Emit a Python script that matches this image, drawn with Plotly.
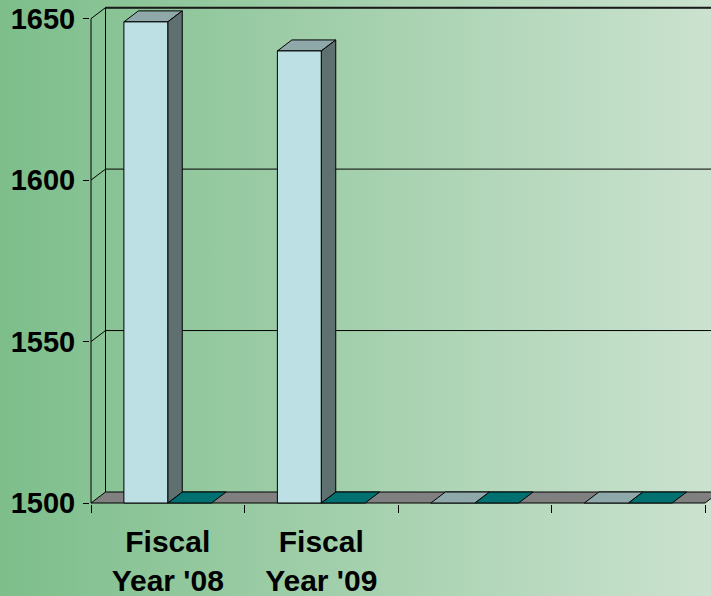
import base64
import plotly.graph_objects as go

# ---------------- data ----------------
categories = ["Fiscal<br>Year '08", "Fiscal<br>Year '09", "", ""]
series_a = [1649, 1640, 0, 0]      # light blue columns
series_b = [0, 0, 0, 0]            # teal columns (below axis minimum -> flat)
y_ticks = [1500, 1550, 1600, 1650]

# ---------------- geometry / style ----------------
Y_MIN, Y_MAX = 1500, 1650
W, H = 711, 596
PX_CAT = 153.5          # pixels per category
PX_UNIT = 3.229         # pixels per value unit
DX = 14.5 / PX_CAT      # depth offset in category units
DY = 11.0 / PX_UNIT     # depth offset in value units
BAR_W = 1 / 3.5         # 2 series, gap 150%
OFF = 0.75 * BAR_W

ML, MB = 90, 92
plot_w = W - ML
plot_h = H - MB
x0r = -1 / PX_CAT
x_range = [x0r, x0r + plot_w / PX_CAT]
y0r = Y_MIN - 1 / PX_UNIT
y_range = [y0r, y0r + plot_h / PX_UNIT]

n = len(categories)

FRONT = "#BCE0E4"
TOP = "#8FA9AB"
SIDE = "#5E7070"
TEAL = "#007070"
FLOOR = "#808080"


def poly(store, pts):
    xs, ys = store
    for px, py in pts:
        xs.append(px)
        ys.append(py)
    xs.append(pts[0][0])
    ys.append(pts[0][1])
    xs.append(None)
    ys.append(None)


def filled(store, color, lw=1):
    return go.Scatter(x=store[0], y=store[1], mode="lines", fill="toself",
                      fillcolor=color, line=dict(color="black", width=lw),
                      hoverinfo="skip", showlegend=False)


fig = go.Figure()

# floor
floor = ([], [])
poly(floor, [(0, Y_MIN), (n, Y_MIN), (n + DX, Y_MIN + DY), (DX, Y_MIN + DY)])
fig.add_trace(filled(floor, FLOOR))

# walls: side wall slants, back wall lines, front axis line
wx, wy = [], []
for v in y_ticks[1:]:
    wx += [0, DX, n + DX + 1, None]
    wy += [v, v + DY, v + DY, None]
wx += [DX, DX, None, 0, 0, None]
wy += [Y_MIN + DY, Y_MAX + DY, None, Y_MIN, Y_MAX, None]
fig.add_trace(go.Scatter(x=wx, y=wy, mode="lines",
                         line=dict(color="black", width=1),
                         hoverinfo="skip", showlegend=False))
fig.add_trace(go.Scatter(x=[DX, n + DX + 1], y=[Y_MAX + DY, Y_MAX + DY],
                         mode="lines", line=dict(color="#1a1a1a", width=2),
                         hoverinfo="skip", showlegend=False))

# columns
fronts, tops_a, sides, tops_b = ([], []), ([], []), ([], []), ([], [])
for i in range(n):
    for s, vals in enumerate([series_a, series_b]):
        x0 = i + OFF + s * BAR_W
        x1 = x0 + BAR_W
        v = max(vals[i], Y_MIN)
        top = [(x0, v), (x1, v), (x1 + DX, v + DY), (x0 + DX, v + DY)]
        if s == 0:
            poly(tops_a, top)
            if v > Y_MIN:
                poly(fronts, [(x0, Y_MIN), (x1, Y_MIN), (x1, v), (x0, v)])
                poly(sides, [(x1, Y_MIN), (x1 + DX, Y_MIN + DY),
                             (x1 + DX, v + DY), (x1, v)])
        else:
            poly(tops_b, top)

fig.add_trace(filled(tops_b, TEAL))
fig.add_trace(filled(tops_a, TOP))
fig.add_trace(filled(sides, SIDE))
fig.add_trace(filled(fronts, FRONT))

# gradient background
svg = ('<svg xmlns="http://www.w3.org/2000/svg" width="%d" height="%d">'
       '<defs><linearGradient id="g" x1="0" y1="0" x2="1" y2="0">'
       '<stop offset="0" stop-color="#7DBE8B"/>'
       '<stop offset="1" stop-color="#CBE2CF"/>'
       '</linearGradient></defs>'
       '<rect width="%d" height="%d" fill="url(#g)"/></svg>') % (W, H, W, H)
src = "data:image/svg+xml;base64," + base64.b64encode(svg.encode()).decode()

fig.update_layout(
    width=W, height=H,
    margin=dict(l=ML, r=0, t=0, b=MB, pad=0),
    paper_bgcolor="#7DBE8B",
    plot_bgcolor="rgba(0,0,0,0)",
    font=dict(family="Liberation Sans, Arial, sans-serif", color="black"),
    images=[dict(source=src, xref="paper", yref="paper",
                 x=-ML / plot_w, y=1, sizex=W / plot_w, sizey=H / plot_h,
                 xanchor="left", yanchor="top", sizing="stretch",
                 layer="below")],
    xaxis=dict(range=x_range, showgrid=False, zeroline=False, showline=False,
               tickmode="array", tickvals=[i + 0.5 for i in range(n)],
               ticktext=["<b>%s</b>" % c.replace("<br>", "</b><br><b>") if c else "" for c in categories],
               ticks="", tickfont=dict(size=30, color="black"),
               ticklabelstandoff=17,
               minor=dict(tickmode="array", tickvals=list(range(n + 1)),
                          ticks="outside", ticklen=8, tickcolor="black",
                          tickwidth=1, showgrid=False)),
    yaxis=dict(range=y_range, showgrid=False, zeroline=False, showline=False,
               tickmode="array", tickvals=y_ticks,
               ticktext=["<b>%d</b>" % t for t in y_ticks],
               ticks="outside", ticklen=6, tickcolor="black", tickwidth=1,
               tickfont=dict(size=29, color="black"), ticklabelstandoff=2),
)

fig.write_html("out.html")
